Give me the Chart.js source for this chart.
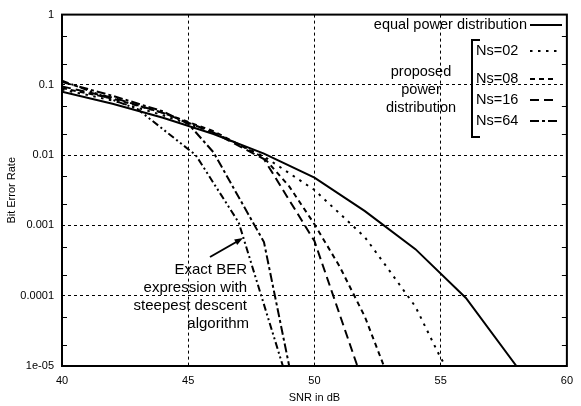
<!DOCTYPE html>
<html>
<head>
<meta charset="utf-8">
<script src="https://cdn.jsdelivr.net/npm/chart.js@4.4.0/dist/chart.umd.min.js"></script>
<style>
  html, body { margin: 0; padding: 0; background: #fff; }
  #wrap { width: 581px; height: 406px; }
</style>
</head>
<body>
<div id="wrap"><canvas id="berChart" width="581" height="406"></canvas></div>
<script>
// values
const snrEqual = [40, 42, 44, 46, 48, 50, 52, 54, 56, 58];
const berEqual = [0.08, 0.054, 0.034, 0.02, 0.0105, 0.0048, 0.0016, 0.00046, 0.000093, 0.00001];

const snrNs02 = [40, 42, 44, 46, 48, 50, 52, 53, 54, 55, 55.2];
const berNs02 = [0.086, 0.06, 0.037, 0.021, 0.0096, 0.0032, 0.00068, 0.00022, 0.00007, 0.000013, 0.00001];

const snrNs08 = [40, 42, 44, 46, 48, 49, 50, 51, 52, 52.75];
const berNs08 = [0.09, 0.064, 0.04, 0.022, 0.0092, 0.0036, 0.00104, 0.00026, 0.00005, 0.00001];

const snrNs16 = [40, 42, 44, 46, 48, 50, 51.7];
const berNs16 = [0.095, 0.066, 0.04, 0.021, 0.0088, 0.0006, 0.00001];

const snrNs64 = [40, 42, 44, 45, 46, 48, 49];
const berNs64 = [0.11, 0.07, 0.042, 0.028, 0.011, 0.00058, 0.00001];

const snrSteep = [40, 43, 45.3, 47, 48.75];
const berSteep = [0.115, 0.045, 0.01, 0.0011, 0.00001];

const xTicks = [40, 45, 50, 55, 60];
const yTicks = [0.00001, 0.0001, 0.001, 0.01, 0.1, 1];
const yTickLabels = ["1e-05", "0.0001", "0.001", "0.01", "0.1", "1"];

const FONT = "'Liberation Sans', Arial, Helvetica, sans-serif";

function pts(xs, ys) {
    return xs.map((x, i) => ({ x: x, y: ys[i] }));
}

function line(label, xs, ys, dash) {
    return {
        label: label,
        data: pts(xs, ys),
        borderColor: "#000",
        backgroundColor: "#000",
        borderWidth: 2,
        borderDash: dash,
        pointRadius: 0,
        tension: 0,
        fill: false
    };
}

const datasets = [
    line("equal power distribution", snrEqual, berEqual, []),
    line("Ns=02", snrNs02, berNs02, [2.5, 5.5]),
    line("Ns=08", snrNs08, berNs08, [5, 4]),
    line("Ns=16", snrNs16, berNs16, [9, 5]),
    line("Ns=64", snrNs64, berNs64, [9, 3, 3, 3]),
    line("steepest descent", snrSteep, berSteep, [7, 3, 2, 3, 2, 3])
];

const extras = {
    id: "extras",
    afterDraw(chart) {
        const ctx = chart.ctx;
        const a = chart.chartArea;
        const y = chart.scales.y;

        ctx.save();
        ctx.strokeStyle = "#000";
        ctx.fillStyle = "#000";

        // minor ticks on left and right
        ctx.lineWidth = 1;
        for (let d = -5; d < 0; d++) {
            [2, 5].forEach(m => {
                const py = Math.round(y.getPixelForValue(m * Math.pow(10, d))) + 0.5;
                ctx.beginPath();
                ctx.moveTo(a.left, py); ctx.lineTo(a.left + 5, py);
                ctx.moveTo(a.right, py); ctx.lineTo(a.right - 5, py);
                ctx.stroke();
            });
        }

        // frame
        ctx.lineWidth = 2;
        ctx.strokeRect(a.left, a.top, a.right - a.left, a.bottom - a.top);

        // axis titles
        ctx.font = "11px " + FONT;
        ctx.textAlign = "center";
        ctx.textBaseline = "middle";
        ctx.fillText("SNR in dB", (a.left + a.right) / 2, 398);
        ctx.save();
        ctx.translate(12, (a.top + a.bottom) / 2);
        ctx.rotate(-Math.PI / 2);
        ctx.fillText("Bit Error Rate", 0, 0);
        ctx.restore();

        // legend
        ctx.font = "14.5px " + FONT;
        ctx.textAlign = "right";
        ctx.fillText("equal power distribution", 527, 25);
        const rows = [
            { ds: 1, y: 51 },
            { ds: 2, y: 79 },
            { ds: 3, y: 100 },
            { ds: 4, y: 121 }
        ];
        ctx.textAlign = "left";
        rows.forEach(r => ctx.fillText(chart.data.datasets[r.ds].label, 476, r.y));

        ctx.lineWidth = 2;
        ctx.setLineDash([]);
        ctx.beginPath();
        ctx.moveTo(530, 25); ctx.lineTo(562, 25);
        ctx.stroke();
        rows.forEach(r => {
            ctx.setLineDash(chart.data.datasets[r.ds].borderDash);
            ctx.beginPath();
            ctx.moveTo(530, r.y); ctx.lineTo(557, r.y);
            ctx.stroke();
        });
        ctx.setLineDash([]);

        // bracket
        ctx.beginPath();
        ctx.moveTo(480, 40); ctx.lineTo(472, 40); ctx.lineTo(472, 137); ctx.lineTo(480, 137);
        ctx.stroke();

        ctx.textAlign = "center";
        ctx.fillText("proposed", 421, 72);
        ctx.fillText("power", 421, 90);
        ctx.fillText("distribution", 421, 108);

        // annotation
        ctx.font = "15px " + FONT;
        ctx.textAlign = "right";
        ctx.fillText("Exact BER", 247, 270);
        ctx.fillText("expression with", 247, 288);
        ctx.fillText("steepest descent", 247, 306);
        ctx.fillText("algorithm", 249, 324);

        const x0 = 210, y0 = 257, x1 = 243, y1 = 238;
        ctx.lineWidth = 2;
        ctx.beginPath();
        ctx.moveTo(x0, y0); ctx.lineTo(x1 - 5, y1 + 3);
        ctx.stroke();
        const ang = Math.atan2(y1 - y0, x1 - x0);
        ctx.beginPath();
        ctx.moveTo(x1, y1);
        ctx.lineTo(x1 - 9 * Math.cos(ang - 0.35), y1 - 9 * Math.sin(ang - 0.35));
        ctx.lineTo(x1 - 9 * Math.cos(ang + 0.35), y1 - 9 * Math.sin(ang + 0.35));
        ctx.closePath();
        ctx.fill();

        ctx.restore();
    }
};

new Chart(document.getElementById("berChart").getContext("2d"), {
    type: "line",
    data: { datasets },
    options: {
        responsive: false,
        animation: false,
        layout: { padding: { left: 0, right: 7, top: 9, bottom: 0 } },
        plugins: {
            legend: { display: false },
            tooltip: { enabled: false }
        },
        scales: {
            x: {
                type: "linear",
                min: 40,
                max: 60,
                afterBuildTicks: s => { s.ticks = xTicks.map(v => ({ value: v })); },
                afterFit: s => { s.height = 40; },
                grid: { color: "#000", lineWidth: 1, drawTicks: false },
                border: { display: false, dash: [3, 3] },
                ticks: {
                    padding: 8,
                    color: "#000",
                    font: { family: FONT, size: 11 },
                    maxRotation: 0,
                    autoSkip: false
                }
            },
            y: {
                type: "logarithmic",
                min: 0.00001,
                max: 1,
                afterBuildTicks: s => { s.ticks = yTicks.map(v => ({ value: v })); },
                afterFit: s => { s.width = 62; },
                grid: { color: "#000", lineWidth: 1, drawTicks: false },
                border: { display: false, dash: [3, 3] },
                ticks: {
                    padding: 8,
                    color: "#000",
                    font: { family: FONT, size: 11 },
                    autoSkip: false,
                    callback: (v, i) => yTickLabels[i]
                }
            }
        }
    },
    plugins: [extras]
});
</script>
</body>
</html>
